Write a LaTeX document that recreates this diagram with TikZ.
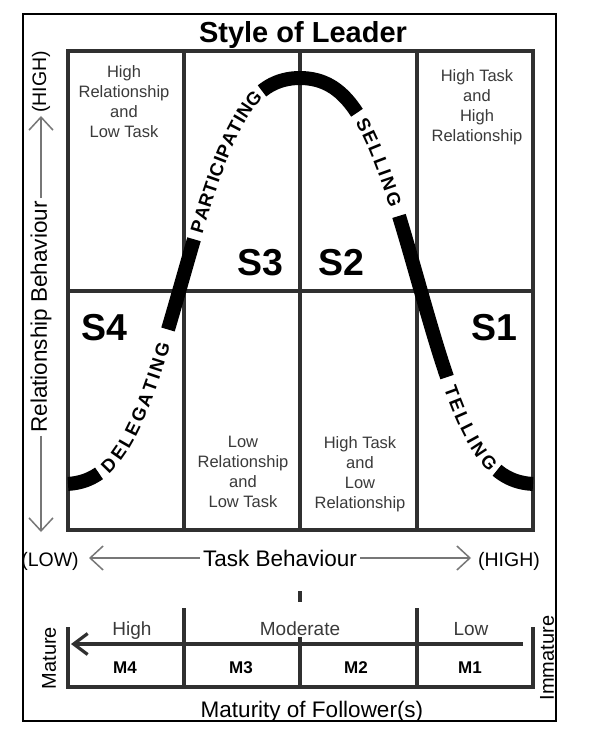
\documentclass[tikz,border=0pt]{standalone}
\usepackage{fontspec}
\setmainfont{Liberation Sans}
\newfontface\curvefont[Scale=1.85]{Liberation Sans Bold}
\usetikzlibrary{arrows.meta,decorations.text}
\definecolor{gridc}{HTML}{303030}
\definecolor{txtc}{HTML}{3A3A3A}
\definecolor{axc}{HTML}{777777}
\newcommand{\myfs}[2]{\fontsize{#1}{#2}\selectfont}
\newcommand{\Hx}{((1-cos(0.762712*abs(\x-300)))/2)}
\newcommand{\Cy}{78+406*(\Hx+0.6*\Hx*(1-\Hx)*(2*\Hx-1))}
\begin{document}
\begin{tikzpicture}[x=1pt,y=-1pt,
  gridline/.style={draw=gridc,line width=3.2pt},
  framebox/.style={draw=black,line width=1.3pt},
  curveseg/.style={draw=black,line width=14pt,line cap=butt},
  celltext/.style={text=txtc,font=\myfs{16.5}{20},align=center,inner sep=0pt},
  slabel/.style={font=\bfseries\myfs{37.5}{40},inner sep=0pt,anchor=base},
  axtext/.style={font=\myfs{22.5}{26},inner sep=3pt},
  axend/.style={font=\myfs{19.5}{22},inner sep=0pt},
  axarrow/.style={draw=axc,line width=1.3pt,-{Straight Barb[length=13pt,width=24pt,line width=1.5pt]}},
  mlab/.style={font=\myfs{19}{22},text=txtc,inner sep=0pt,anchor=base},
  mcode/.style={font=\bfseries\myfs{17}{20},inner sep=0pt,anchor=base},
  curvelabel/.style={decorate,decoration={text along path,text={|\curvefont|#1},text align={fit to path},raise=-6.6pt}}
]
\useasboundingbox (0,0) rectangle (609,751);
\fill[white] (0,0) rectangle (609,751);
\draw[framebox] (23,14) rectangle (556,721);

% title
\node[font=\bfseries\myfs{29}{32},inner sep=0pt,anchor=base] (title) at (303,42.5) {Style of Leader};

% grid
\draw[gridline] (68,51) rectangle (533,530);
\draw[gridline] (184,51) -- (184,530);
\draw[gridline] (300,51) -- (300,530);
\draw[gridline] (417,51) -- (417,530);
\draw[gridline] (68,291) -- (533,291);

% cell texts
\node[celltext] (tl) at (124,101.5) {High\\Relationship\\and\\Low Task};
\node[celltext] (tr) at (477,107) {High Task\\and\\High\\Relationship};
\node[celltext] (bl) at (243,472) {Low\\Relationship\\and\\Low Task};
\node[celltext] (br) at (360,474) {High Task\\and\\Low\\Relationship};

% style labels
\node[slabel] (s3) at (260,275) {S3};
\node[slabel] (s2) at (341,275) {S2};
\node[slabel] (s4) at (104,340) {S4};
\node[slabel] (s1) at (494,340) {S1};

% curve segments
\draw[curveseg] plot[domain=68:99,samples=20] (\x,{\Cy});
\draw[curveseg] plot[domain=168:194,samples=20] (\x,{\Cy});
\draw[curveseg] plot[domain=262:357,samples=40] (\x,{\Cy});
\draw[curveseg] plot[domain=399:447,samples=25] (\x,{\Cy});
\draw[curveseg] plot[domain=497:533,samples=20] (\x,{\Cy});

% curve labels
\path[curvelabel=DELEGATING] plot[domain=104:164,samples=60] (\x,{\Cy});
\path[curvelabel=PARTICIPATING] plot[domain=196:258.5,samples=60] (\x,{\Cy});
\path[curvelabel=SELLING] plot[domain=361:396,samples=50] (\x,{\Cy});
\path[curvelabel=TELLING] plot[domain=450:494,samples=50] (\x,{\Cy});

% vertical axis
\node[axtext,rotate=90] (relb) at (41,317) {Relationship Behaviour};
\coordinate (vtop) at (41,116);
\coordinate (vbot) at (41,532);
\draw[axarrow] (relb.east) -- (vtop);
\draw[axarrow] (relb.west) -- (vbot);
\node[axend,rotate=90] (vhigh) at (41,82) {(HIGH)};

% horizontal axis
\node[axtext] (taskb) at (280,558) {Task Behaviour};
\coordinate (hleft) at (89,558);
\coordinate (hright) at (471,558);
\draw[axarrow] (taskb.west) -- (hleft);
\draw[axarrow] (taskb.east) -- (hright);
\node[axend,anchor=base] (hlow) at (50,566) {(LOW)};
\node[axend,anchor=base] (hhigh) at (509,566) {(HIGH)};

% maturity scale
\draw[gridline] (300,591) -- (300,602);
\draw[gridline] (68,627) -- (68,687) -- (533,687) -- (533,627);
\draw[gridline] (184,608) -- (184,687);
\draw[gridline] (417,608) -- (417,687);
\draw[gridline] (300,637) -- (300,687);
\coordinate (marrs) at (523,644);
\coordinate (marre) at (71,644);
\draw[gridline,-{Straight Barb[length=14pt,width=21pt]}] (marrs) -- (marre);

\node[mlab] (mhigh) at (132,635) {High};
\node[mlab] (mmod) at (300,635) {Moderate};
\node[mlab] (mlow) at (471,635) {Low};
\node[mcode] (m4) at (125,673) {M4};
\node[mcode] (m3) at (241,673) {M3};
\node[mcode] (m2) at (356,673) {M2};
\node[mcode] (m1) at (470,673) {M1};
\node[font=\myfs{20}{22},inner sep=0pt,rotate=90] (mature) at (49,658) {Mature};
\node[font=\myfs{20}{22},inner sep=0pt,rotate=90] (immature) at (547,658) {Immature};
\node[font=\myfs{22.5}{26},inner sep=0pt,anchor=base] (matf) at (312,717) {Maturity of Follower(s)};
\end{tikzpicture}
\end{document}
